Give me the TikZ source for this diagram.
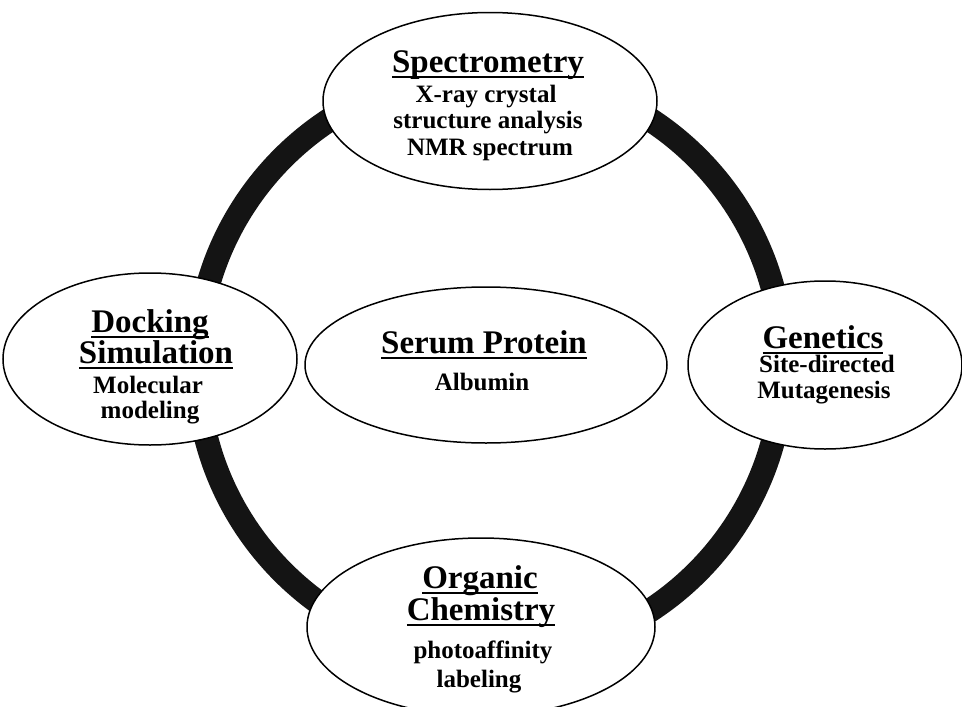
\documentclass[tikz,border=0pt]{standalone}
\usepackage{fontspec}
\setmainfont{Liberation Serif}
\usetikzlibrary{shapes.geometric}
\newcommand\myul[1]{\setbox0=\hbox{#1}\rlap{\rule[-6pt]{\wd0}{1.8pt}}\box0}
\tikzset{
  ell/.style={ellipse, draw=black, line width=1.5pt, fill=white, inner sep=0pt},
  ringline/.style={line width=24pt, draw=black!92},
  hd/.style={font=\fontsize{33}{36}\selectfont\bfseries, anchor=base, inner sep=0pt},
  sub/.style={font=\fontsize{25}{28}\selectfont\bfseries, anchor=base, inner sep=0pt}
}
\begin{document}
\begin{tikzpicture}[x=1pt,y=-1pt]
\useasboundingbox (0,0) rectangle (962,707);
\coordinate (c) at (490,365);
\draw[ringline] (c) circle[radius=293];
% ellipses
\node[ell, minimum width=334pt, minimum height=177pt] (spec) at (490,101) {};
\node[ell, minimum width=294pt, minimum height=172pt] (dock) at (150,359) {};
\node[ell, minimum width=274pt, minimum height=168pt] (gen) at (825,365) {};
\node[ell, minimum width=362pt, minimum height=156pt] (serum) at (486,365) {};
\node[ell, minimum width=348pt, minimum height=178pt] (org) at (481,627) {};
% texts: top
\node[hd] (t1) at (488,72) {\myul{Spectrometry}};
\node[sub] (t2) at (486,102) {X-ray crystal};
\node[sub] (t3) at (488,128) {structure analysis};
\node[sub] (t4) at (490,155) {NMR spectrum};
% left
\node[hd] (l1) at (150,332) {\myul{Docking}};
\node[hd] (l2) at (156,363) {\myul{Simulation}};
\node[sub] (l3) at (148,393) {Molecular};
\node[sub] (l4) at (150,418) {modeling};
% right
\node[hd] (r1) at (823,348) {\myul{Genetics}};
\node[sub] (r2) at (827,372) {Site-directed};
\node[sub] (r3) at (824,398) {Mutagenesis};
% center
\node[hd] (c1) at (484,353) {\myul{Serum Protein}};
\node[sub] (c2) at (482,390) {Albumin};
% bottom
\node[hd] (b1) at (480,588) {\myul{Organic}};
\node[hd] (b2) at (481,620) {\myul{Chemistry}};
\node[sub] (b3) at (483,658) {photoaffinity};
\node[sub] (b4) at (479,687) {labeling};
\end{tikzpicture}
\end{document}
